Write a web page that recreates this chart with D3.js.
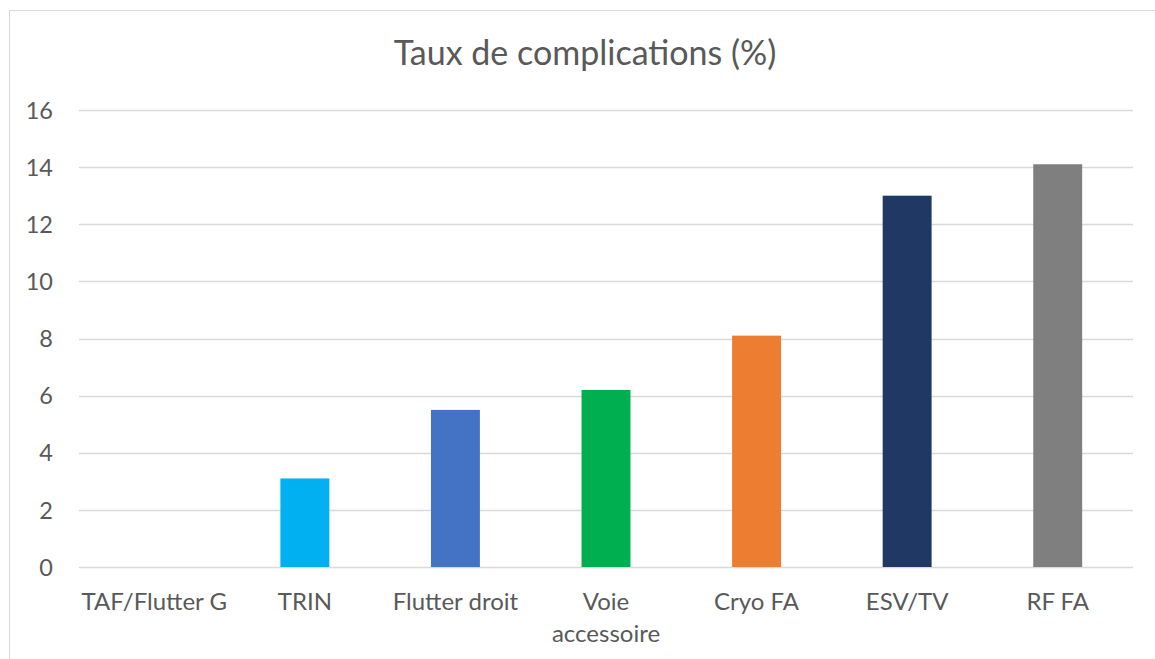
<!DOCTYPE html>
<html><head><meta charset="utf-8">
<script src="https://cdn.jsdelivr.net/npm/d3@7"></script>
<style>body{margin:0;background:#fff;}svg{display:block;}</style>
</head><body>
<svg id="c" width="1155" height="659"></svg>
<script>
const title = "Taux de complications (%)";
const categories = ["TAF/Flutter G", "TRIN", "Flutter droit", "Voie accessoire", "Cryo FA", "ESV/TV", "RF FA"];
const values = [0, 3.1, 5.5, 6.2, 8.1, 13.0, 14.1];
const colors = ["#A5A5A5", "#00B0F0", "#4472C4", "#00B050", "#ED7D31", "#203864", "#7F7F7F"];
const yTicks = [0, 2, 4, 6, 8, 10, 12, 14, 16];

const svg = d3.select("#c");
const font = "Lato, 'Open Sans', sans-serif";
const txt = "#595959";

svg.append("rect").attr("x", 9.5).attr("y", 10.5).attr("width", 1200).attr("height", 700)
  .attr("fill", "#fff").attr("stroke", "#D9D9D9").attr("stroke-width", 1);

const x = d3.scaleBand().domain(categories).range([79, 1133]).padding(0);
const y = d3.scaleLinear().domain([0, 16]).range([567, 110]);

// gridlines
svg.append("g").selectAll("line").data(yTicks).join("line")
  .attr("x1", 79).attr("x2", 1133)
  .attr("y1", d => Math.round(y(d)) + 0.5).attr("y2", d => Math.round(y(d)) + 0.5)
  .attr("stroke", "#D9D9D9").attr("stroke-width", 1.3);

// y axis labels
const yAxis = d3.axisLeft(y).tickValues(yTicks).tickSize(0).tickPadding(0);
const ya = svg.append("g").attr("transform", "translate(53,0)").call(yAxis);
ya.select(".domain").remove();
ya.selectAll("text").attr("font-family", font).attr("font-size", 23.5).attr("fill", txt).attr("dy", "0.35em");

// bars
const bw = x.bandwidth() * 0.325;
svg.append("g").selectAll("rect").data(categories).join("rect")
  .attr("x", (d) => x(d) + x.bandwidth() / 2 - bw / 2)
  .attr("width", bw)
  .attr("y", (d, i) => y(values[i]))
  .attr("height", (d, i) => y(0) - y(values[i]))
  .attr("fill", (d, i) => colors[i]);

// x axis labels
const xAxis = d3.axisBottom(x).tickSize(0).tickPadding(0);
const xa = svg.append("g").call(xAxis);
xa.select(".domain").remove();
xa.selectAll("text").remove();
xa.selectAll(".tick").each(function(d) {
  const g = d3.select(this);
  const words = d === "Voie accessoire" ? ["Voie", "accessoire"] : [d];
  words.forEach((w, k) => {
    g.append("text").attr("x", 0).attr("y", 610 + k * 32)
      .attr("text-anchor", "middle").attr("font-family", font).attr("font-size", 24)
      .attr("fill", txt).text(w);
  });
});

// title
svg.append("text").attr("x", 585).attr("y", 65).attr("text-anchor", "middle")
  .attr("font-family", font).attr("font-size", 34).attr("fill", txt).text(title);
</script>
</body></html>
